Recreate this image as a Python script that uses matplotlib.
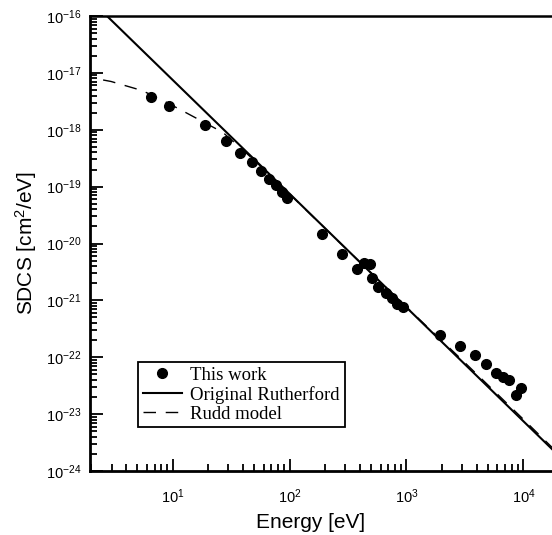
import matplotlib
matplotlib.use("Agg")
import matplotlib.pyplot as plt
from matplotlib.ticker import LogLocator, NullFormatter, FixedLocator

plt.rcParams['font.family'] = ['Liberation Sans', 'DejaVu Sans']
plt.rcParams['mathtext.default'] = 'regular'

# --- data ---
work_energy = [6.52, 9.36, 18.9, 28.4, 37.7, 47.4, 56.9, 66.4, 76.5, 85.6, 95.1,
               189, 283, 379, 433, 487, 502, 574, 668, 747, 829, 934,
               1923, 2870, 3818, 4790, 5830, 6654, 7576, 9590, 8690]
work_sdcs = [3.73e-18, 2.65e-18, 1.21e-18, 6.43e-19, 3.96e-19, 2.66e-19, 1.89e-19,
             1.38e-19, 1.07e-19, 8.17e-20, 6.33e-20,
             1.45e-20, 6.62e-21, 3.53e-21, 4.56e-21, 4.29e-21, 2.46e-21, 1.73e-21,
             1.35e-21, 1.09e-21, 8.8e-22, 7.5e-22,
             2.51e-22, 1.59e-22, 1.10e-22, 7.74e-23, 5.32e-23, 4.58e-23, 4.06e-23,
             2.86e-23, 2.14e-23]

ruth_energy = [2.74, 17600]
ruth_sdcs = [1.0e-16, 2.42e-24]

rudd_energy = [2.54, 2.97, 5.46, 8.09, 12.2, 26.9, 50, 100, 1000, 3000, 10000, 17600]
rudd_sdcs = [7.5e-18, 7.06e-18, 4.9e-18, 3.34e-18, 2.14e-18, 8.97e-19, 2.9e-19,
             7.4e-20, 7.6e-22, 8.9e-23, 8.1e-24, 2.6e-24]

x_major_ticks = [1e1, 1e2, 1e3, 1e4]
y_major_ticks = [1e-24, 1e-23, 1e-22, 1e-21, 1e-20, 1e-19, 1e-18, 1e-17, 1e-16]

legend_labels = ['This work', 'Original Rutherford', 'Rudd model']

W, H = 552, 535
fig = plt.figure(figsize=(W / 100, H / 100), dpi=100)
ax = fig.add_axes([90 / W, 1 - 471 / H, (W - 90) / W, (471 - 16) / H])

ax.plot(work_energy, work_sdcs, 'o', color='black', ms=7.0, label=legend_labels[0], zorder=3)
ax.plot(ruth_energy, ruth_sdcs, '-', color='black', lw=1.5, label=legend_labels[1])
ax.plot(rudd_energy, rudd_sdcs, color='black', lw=1.0, ls=(0, (9, 7)), label=legend_labels[2])

ax.set_xscale('log')
ax.set_yscale('log')
ax.set_xlim(1.962, 17566)
ax.set_ylim(1e-24, 1e-16)

ax.xaxis.set_major_locator(FixedLocator(x_major_ticks))
ax.xaxis.set_minor_locator(LogLocator(base=10, subs=range(2, 10), numticks=50))
ax.yaxis.set_major_locator(FixedLocator(y_major_ticks))
ax.yaxis.set_minor_locator(LogLocator(base=10, subs=range(2, 10), numticks=50))
ax.xaxis.set_minor_formatter(NullFormatter())
ax.yaxis.set_minor_formatter(NullFormatter())

ax.tick_params(which='both', direction='in', top=False, right=False, width=1.3, colors='black')
ax.tick_params(which='major', length=9)
ax.tick_params(which='minor', length=5)
ax.tick_params(axis='x', which='major', labelsize=10.5, pad=12)
ax.tick_params(axis='y', which='major', labelsize=10.5, pad=6)

for side in ['left', 'bottom']:
    ax.spines[side].set_linewidth(2.0)
ax.spines['top'].set_linewidth(1.8)
ax.spines['right'].set_visible(False)

ax.set_xlabel('Energy [eV]', fontsize=15)
ax.xaxis.set_label_coords((311 - 90) / (W - 90), -(522 - 471) / (471 - 16), transform=ax.transAxes)
ax.xaxis.label.set_va('center')
ax.set_ylabel('SDCS [cm$^2$/eV]', fontsize=15)
ax.yaxis.set_label_coords(-(90 - 26) / (W - 90), 0.5, transform=ax.transAxes)
ax.yaxis.label.set_va('center')

leg = ax.legend(loc='upper left', bbox_to_anchor=(138 / W, 1 - 362 / H),
                bbox_transform=fig.transFigure,
                prop={'family': 'Liberation Serif', 'size': 13.5},
                frameon=True, fancybox=False, shadow=False, framealpha=1,
                edgecolor='black', borderpad=0.25, labelspacing=0.1,
                handlelength=2.1, handletextpad=0.45, borderaxespad=0)
leg.get_frame().set_linewidth(1.3)

fig.savefig('out.png', dpi=100)
